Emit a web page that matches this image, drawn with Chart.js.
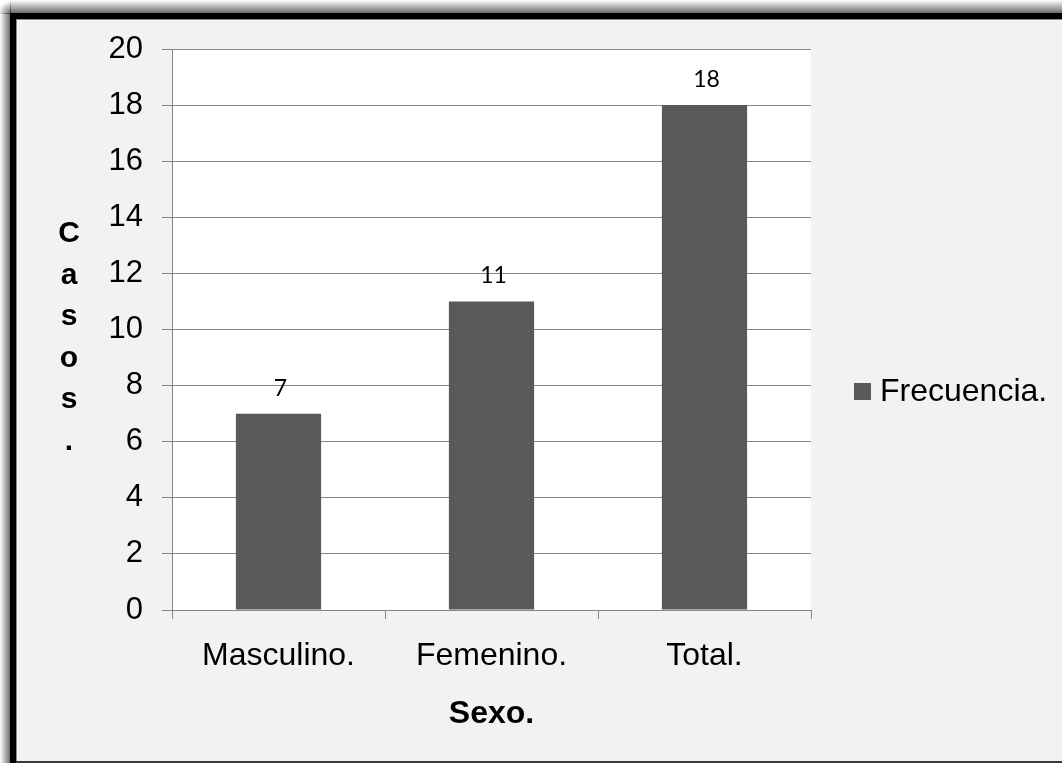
<!DOCTYPE html>
<html lang="es">
<head>
<meta charset="utf-8">
<title>Casos por sexo</title>
<script src="https://cdn.jsdelivr.net/npm/chart.js@4.4.1/dist/chart.umd.min.js"></script>
<style>
  html, body { margin: 0; padding: 0; background: #ffffff; }
  #wrap { width: 1062px; height: 763px; overflow: hidden; }
  canvas { display: block; }
</style>
</head>
<body>
<div id="wrap"><canvas id="grafico" width="1062" height="763"></canvas></div>
<script>
// Datos del gráfico
const categorias = ['Masculino.', 'Femenino.', 'Total.'];
const frecuencia = [7, 11, 18];
const nombreSerie = 'Frecuencia.';
const tituloX = 'Sexo.';
const tituloY = 'Casos.';
const ejeY = { min: 0, max: 20, paso: 2 };

const FUENTE = '"Liberation Sans", Arial, Helvetica, sans-serif';
const FUENTE_VALORES = 'Lato, "Open Sans", sans-serif';
const COLOR_BARRA = '#595959';
const COLOR_EJE = '#868686';

// Fondo, marco con sombra y área de trazado blanca
const fondoMarco = {
  id: 'fondoMarco',
  beforeDraw(chart) {
    const ctx = chart.ctx;
    const W = chart.width, H = chart.height;
    ctx.save();
    ctx.fillStyle = '#ffffff';
    ctx.fillRect(0, 0, W, H);
    // sombra difusa por encima y a la izquierda del marco
    const gSup = ctx.createLinearGradient(0, 0, 0, 14);
    gSup.addColorStop(0, 'rgba(0,0,0,0)');
    gSup.addColorStop(1, 'rgba(0,0,0,0.62)');
    ctx.fillStyle = gSup;
    ctx.fillRect(10, 0, W, 14);
    const gIzq = ctx.createLinearGradient(0, 0, 11, 0);
    gIzq.addColorStop(0, 'rgba(0,0,0,0)');
    gIzq.addColorStop(1, 'rgba(0,0,0,0.62)');
    ctx.fillStyle = gIzq;
    ctx.fillRect(0, 13, 11, H);
    // esquina superior izquierda
    const gEsq = ctx.createRadialGradient(11, 14, 0, 11, 14, 13);
    gEsq.addColorStop(0, 'rgba(0,0,0,0.62)');
    gEsq.addColorStop(1, 'rgba(0,0,0,0)');
    ctx.fillStyle = gEsq;
    ctx.fillRect(0, 0, 11, 14);
    // marco negro
    ctx.fillStyle = '#000000';
    ctx.fillRect(10, 13, W + 40, H + 40);
    // interior gris claro
    ctx.fillStyle = '#f2f2f2';
    ctx.fillRect(16, 19, W + 40, 742);
    ctx.fillStyle = '#8a8a8a';
    ctx.fillRect(16, 19, W + 40, 1);
    ctx.fillRect(16, 19, 1, 742);
    // borde inferior del marco
    ctx.fillStyle = '#3a3a3a';
    ctx.fillRect(16, 761, W + 40, 2);
    // área de trazado
    const a = chart.chartArea;
    ctx.fillStyle = '#ffffff';
    ctx.fillRect(a.left, a.top, a.right - a.left, a.bottom - a.top);
    ctx.restore();
  }
};

// Título vertical del eje Y (letras apiladas), etiquetas de valor y leyenda
const textosExtra = {
  id: 'textosExtra',
  afterDatasetsDraw(chart) {
    const ctx = chart.ctx;
    ctx.save();
    // etiquetas de valor sobre cada barra
    const meta = chart.getDatasetMeta(0);
    ctx.fillStyle = '#000000';
    ctx.font = '23px ' + FUENTE_VALORES;
    ctx.textAlign = 'center';
    ctx.textBaseline = 'alphabetic';
    meta.data.forEach((barra, i) => {
      const valor = chart.data.datasets[0].data[i];
      ctx.fillText(String(valor), barra.x + 2, barra.y - 18);
    });
    ctx.restore();
  },
  afterDraw(chart) {
    const ctx = chart.ctx;
    ctx.save();
    // título del eje Y, una letra por línea
    ctx.fillStyle = '#000000';
    ctx.font = 'bold 30px ' + FUENTE;
    ctx.textAlign = 'center';
    ctx.textBaseline = 'alphabetic';
    const letras = tituloY.split('');
    letras.forEach((l, i) => {
      ctx.fillText(l, 69, 242 + i * 41.5);
    });
    // leyenda
    const ds = chart.data.datasets[0];
    ctx.fillStyle = ds.backgroundColor;
    ctx.fillRect(854, 383, 17, 17);
    ctx.fillStyle = '#000000';
    ctx.font = '32px ' + FUENTE;
    ctx.textAlign = 'left';
    ctx.fillText(ds.label, 880, 401);
    ctx.restore();
  }
};

new Chart(document.getElementById('grafico'), {
  type: 'bar',
  data: {
    labels: categorias,
    datasets: [{
      label: nombreSerie,
      data: frecuencia,
      backgroundColor: COLOR_BARRA,
      borderWidth: 0,
      categoryPercentage: 1.0,
      barPercentage: 0.4
    }]
  },
  options: {
    responsive: false,
    devicePixelRatio: 1,
    animation: false,
    layout: { padding: { left: 0, top: 49, right: 251, bottom: 0 } },
    plugins: {
      legend: { display: false },
      tooltip: { enabled: false },
      title: { display: false }
    },
    scales: {
      x: {
        afterFit(scale) { scale.height = 153; },
        grid: {
          display: true,
          offset: true,
          drawOnChartArea: false,
          drawTicks: true,
          tickLength: 9,
          color: COLOR_EJE,
          lineWidth: 1
        },
        border: { display: true, color: COLOR_EJE, width: 1 },
        ticks: {
          color: '#000000',
          font: { family: FUENTE, size: 32 },
          padding: 18,
          maxRotation: 0
        },
        title: {
          display: true,
          text: tituloX,
          color: '#000000',
          font: { family: FUENTE, size: 32, weight: 'bold' },
          padding: { top: 0, bottom: 30 }
        }
      },
      y: {
        min: ejeY.min,
        max: ejeY.max,
        afterFit(scale) { scale.width = 172; },
        grid: {
          color: COLOR_EJE,
          lineWidth: 1,
          drawTicks: true,
          tickLength: 10,
          tickColor: COLOR_EJE
        },
        border: { display: true, color: COLOR_EJE, width: 1 },
        ticks: {
          stepSize: ejeY.paso,
          color: '#000000',
          font: { family: FUENTE, size: 31 },
          padding: 19
        }
      }
    }
  },
  plugins: [fondoMarco, textosExtra]
});
</script>
</body>
</html>
